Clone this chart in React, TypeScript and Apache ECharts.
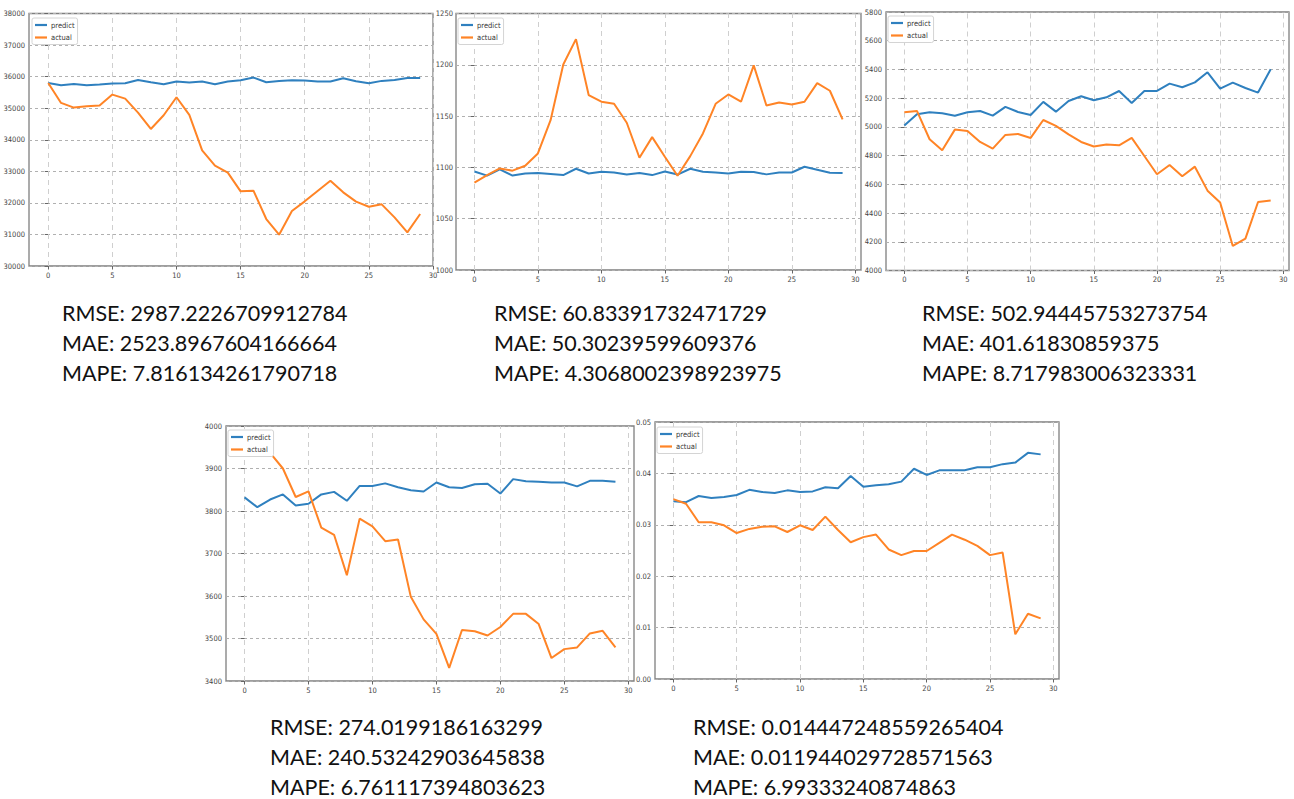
import React, { useEffect, useRef } from "react";
import * as echarts from "echarts";

// ---- forecast results, one predict/actual pair per panel (30 test steps each) ----
const predict1 = [35800, 35727, 35770, 35727, 35748, 35780, 35790, 35896, 35822, 35759, 35843, 35812, 35843, 35759, 35843, 35886, 35970, 35822, 35865, 35886, 35875, 35843, 35843, 35949, 35854, 35790, 35865, 35896, 35960, 35960];
const actual1 = [35800, 35167, 35019, 35061, 35082, 35431, 35304, 34860, 34342, 34776, 35347, 34786, 33666, 33180, 32958, 32366, 32387, 31488, 30991, 31742, 32049, 32377, 32704, 32334, 32038, 31879, 31953, 31541, 31065, 31647];

const predict2 = [1096, 1092, 1098, 1092, 1094, 1094.5, 1093.5, 1092.5, 1098.7, 1094, 1095.8, 1095, 1093, 1094.5, 1092.5, 1096, 1093, 1098.7, 1095.8, 1095, 1094, 1095.8, 1095.5, 1093.2, 1095, 1095, 1100.6, 1097.7, 1094.8, 1094.5];
const actual2 = [1085.1, 1092.5, 1099, 1096.8, 1101.6, 1113.6, 1146, 1200.3, 1225, 1170.5, 1164, 1162, 1143.5, 1109.4, 1129.5, 1110.4, 1091.9, 1111, 1133.1, 1162, 1171.1, 1164, 1199.4, 1160.4, 1163.3, 1161.4, 1164, 1182.1, 1174.7, 1146.8];

const predict3 = [5009, 5088, 5102, 5095, 5078, 5102, 5111, 5078, 5139, 5104, 5083, 5174, 5106, 5180, 5213, 5185, 5206, 5250, 5167, 5250, 5250, 5301, 5276, 5310, 5380, 5266, 5308, 5271, 5239, 5401];
const actual3 = [5102, 5111, 4914, 4837, 4981, 4972, 4895, 4849, 4944, 4951, 4923, 5048, 5007, 4948, 4895, 4863, 4877, 4872, 4923, 4797, 4670, 4735, 4656, 4723, 4556, 4473, 4171, 4222, 4477, 4487];

const predict4 = [3832, 3809, 3827, 3839, 3813, 3817, 3839, 3845, 3824, 3859, 3859, 3865, 3856, 3849, 3846, 3867, 3856, 3854, 3863, 3864, 3841, 3875, 3870, 3869, 3867, 3867, 3858, 3871, 3871, 3869];
const actual4 = [3980, 3972, 3937, 3900, 3833, 3846, 3761, 3744, 3649, 3782, 3764, 3729, 3733, 3598, 3545, 3511, 3431, 3520, 3517, 3507, 3527, 3558, 3558, 3534, 3454, 3475, 3479, 3512, 3518, 3479];

const predict5 = [0.0346, 0.0344, 0.0356, 0.0352, 0.0354, 0.0358, 0.0368, 0.0364, 0.0362, 0.0367, 0.0364, 0.0365, 0.0373, 0.0371, 0.0395, 0.0374, 0.0377, 0.0379, 0.0384, 0.0409, 0.0397, 0.0406, 0.0406, 0.0406, 0.0412, 0.0412, 0.0418, 0.0421, 0.044, 0.0437];
const actual5 = [0.035, 0.0341, 0.0305, 0.0305, 0.0299, 0.0284, 0.0292, 0.0296, 0.0297, 0.0286, 0.0299, 0.029, 0.0316, 0.029, 0.0266, 0.0276, 0.0281, 0.0252, 0.0241, 0.0249, 0.0249, 0.0265, 0.0281, 0.0271, 0.0259, 0.0241, 0.0246, 0.0087, 0.0127, 0.0118];

// x tick labels shared by every panel
const xTicks = [0, 5, 10, 15, 20, 25, 30];

// error metrics printed under each panel
const metrics1 = ["RMSE: 2987.2226709912784", "MAE: 2523.8967604166664", "MAPE: 7.816134261790718"];
const metrics2 = ["RMSE: 60.83391732471729", "MAE: 50.30239599609376", "MAPE: 4.3068002398923975"];
const metrics3 = ["RMSE: 502.94445753273754", "MAE: 401.61830859375", "MAPE: 8.717983006323331"];
const metrics4 = ["RMSE: 274.0199186163299", "MAE: 240.53242903645838", "MAPE: 6.761117394803623"];
const metrics5 = ["RMSE: 0.014447248559265404", "MAE: 0.011944029728571563", "MAPE: 6.99333240874863"];

// ---- styling / layout ----
const BLUE = "#2f80bf";
const ORANGE = "#ff8426";
const TICK_FONT = "'DejaVu Sans Condensed','Liberation Sans Narrow','Liberation Sans',sans-serif";
const METRIC_FONT = "Lato, 'Liberation Sans', sans-serif";

type Panel = {
  grid: { left: number; top: number; width: number; height: number };
  xMin: number;
  xMax: number;
  yMin: number;
  yMax: number;
  yStep: number;
  digits: number;
  yLabelGap: number;
  legend: { left: number; top: number };
  predict: number[];
  actual: number[];
  metrics: string[];
  metricsAt: { x: number; y: number };
};

const panels: Panel[] = [
  {
    grid: { left: 29, top: 13.5, width: 404, height: 252.5 },
    xMin: -1.5, xMax: 30, yMin: 30000, yMax: 38000, yStep: 1000, digits: 0, yLabelGap: 4,
    legend: { left: 32, top: 18 },
    predict: predict1, actual: actual1, metrics: metrics1, metricsAt: { x: 62, y: 313 },
  },
  {
    grid: { left: 456, top: 13.5, width: 405, height: 256.5 },
    xMin: -1.45, xMax: 30.45, yMin: 1000, yMax: 1250, yStep: 50, digits: 0, yLabelGap: 3,
    legend: { left: 458, top: 18 },
    predict: predict2, actual: actual2, metrics: metrics2, metricsAt: { x: 494, y: 313 },
  },
  {
    grid: { left: 886, top: 12, width: 403, height: 258.5 },
    xMin: -1.45, xMax: 30.45, yMin: 4000, yMax: 5800, yStep: 200, digits: 0, yLabelGap: 4,
    legend: { left: 888, top: 16 },
    predict: predict3, actual: actual3, metrics: metrics3, metricsAt: { x: 922, y: 313 },
  },
  {
    grid: { left: 226, top: 426, width: 408, height: 255 },
    xMin: -1.45, xMax: 30.45, yMin: 3400, yMax: 4000, yStep: 100, digits: 0, yLabelGap: 4,
    legend: { left: 228, top: 430 },
    predict: predict4, actual: actual4, metrics: metrics4, metricsAt: { x: 270, y: 727 },
  },
  {
    grid: { left: 655, top: 422, width: 404, height: 257 },
    xMin: -1.45, xMax: 30.45, yMin: 0, yMax: 0.05, yStep: 0.01, digits: 2, yLabelGap: 4,
    legend: { left: 657, top: 427 },
    predict: predict5, actual: actual5, metrics: metrics5, metricsAt: { x: 693, y: 727 },
  },
];

const tickLabel = { fontFamily: TICK_FONT, fontSize: 7.5, color: "#444" };

function buildOption() {
  const grid: any[] = [];
  const xAxis: any[] = [];
  const yAxis: any[] = [];
  const series: any[] = [];
  const legend: any[] = [];
  const graphic: any[] = [];

  panels.forEach((p, i) => {
    grid.push({
      ...p.grid,
      show: true,
      borderColor: "#7f7f7f",
      borderWidth: 1.3,
      backgroundColor: "transparent",
    });
    xAxis.push({
      type: "value",
      gridIndex: i,
      min: p.xMin,
      max: p.xMax,
      axisLine: { show: false },
      axisTick: { show: true, length: 3.5, customValues: xTicks, lineStyle: { color: "#666" } },
      axisLabel: { ...tickLabel, margin: 5, customValues: xTicks, formatter: (v: number) => String(v) },
      splitLine: { show: false },
    });
    yAxis.push({
      type: "value",
      gridIndex: i,
      min: p.yMin,
      max: p.yMax,
      interval: p.yStep,
      axisLine: { show: false },
      axisTick: { show: true, length: 3.5, lineStyle: { color: "#666" } },
      axisLabel: {
        ...tickLabel,
        margin: p.yLabelGap,
        formatter: (v: number) => v.toFixed(p.digits),
      },
      splitLine: { show: true, lineStyle: { color: "#b0b0b0", type: [3, 3], width: 1 } },
    });
    series.push({
      name: "predict",
      type: "line",
      xAxisIndex: i,
      yAxisIndex: i,
      data: p.predict.map((v, k) => [k, v]),
      showSymbol: false,
      color: BLUE,
      lineStyle: { width: 2, color: BLUE },
      z: 3,
      markLine: {
        silent: true,
        symbol: ["none", "none"],
        z: 1,
        label: { show: false },
        lineStyle: { color: "#cfcfcf", type: [5, 4], width: 1 },
        data: xTicks.map((t) => ({ xAxis: t })),
      },
    });
    series.push({
      name: "actual",
      type: "line",
      xAxisIndex: i,
      yAxisIndex: i,
      data: p.actual.map((v, k) => [k, v]),
      showSymbol: false,
      color: ORANGE,
      lineStyle: { width: 2, color: ORANGE },
      z: 3,
    });
    legend.push({
      left: p.legend.left,
      top: p.legend.top,
      orient: "vertical",
      data: ["predict", "actual"],
      icon: "rect",
      itemWidth: 12,
      itemHeight: 2.2,
      itemGap: 4.5,
      padding: [3, 3, 3, 3],
      backgroundColor: "#fff",
      borderColor: "#d4d4d4",
      borderWidth: 1,
      borderRadius: 2,
      selectedMode: false,
      textStyle: { fontFamily: TICK_FONT, fontSize: 7.5, color: "#333", padding: [0, 0, 0, -1] },
      z: 10,
    });
    p.metrics.forEach((line, r) => {
      graphic.push({
        type: "text",
        x: p.metricsAt.x,
        y: p.metricsAt.y + r * 30,
        style: {
          text: line,
          fontFamily: METRIC_FONT,
          fontSize: 21.5,
          fill: "#111",
          textVerticalAlign: "middle",
          verticalAlign: "middle",
        },
      });
    });
  });

  return {
    animation: false,
    backgroundColor: "#fff",
    grid,
    xAxis,
    yAxis,
    series,
    legend,
    graphic,
  };
}

export default function App() {
  const ref = useRef<HTMLDivElement>(null);
  useEffect(() => {
    document.body.style.margin = "0";
    const chart = echarts.init(ref.current!, null, { renderer: "svg" });
    chart.setOption(buildOption());
    return () => chart.dispose();
  }, []);
  return <div ref={ref} style={{ width: 1294, height: 799 }} />;
}
